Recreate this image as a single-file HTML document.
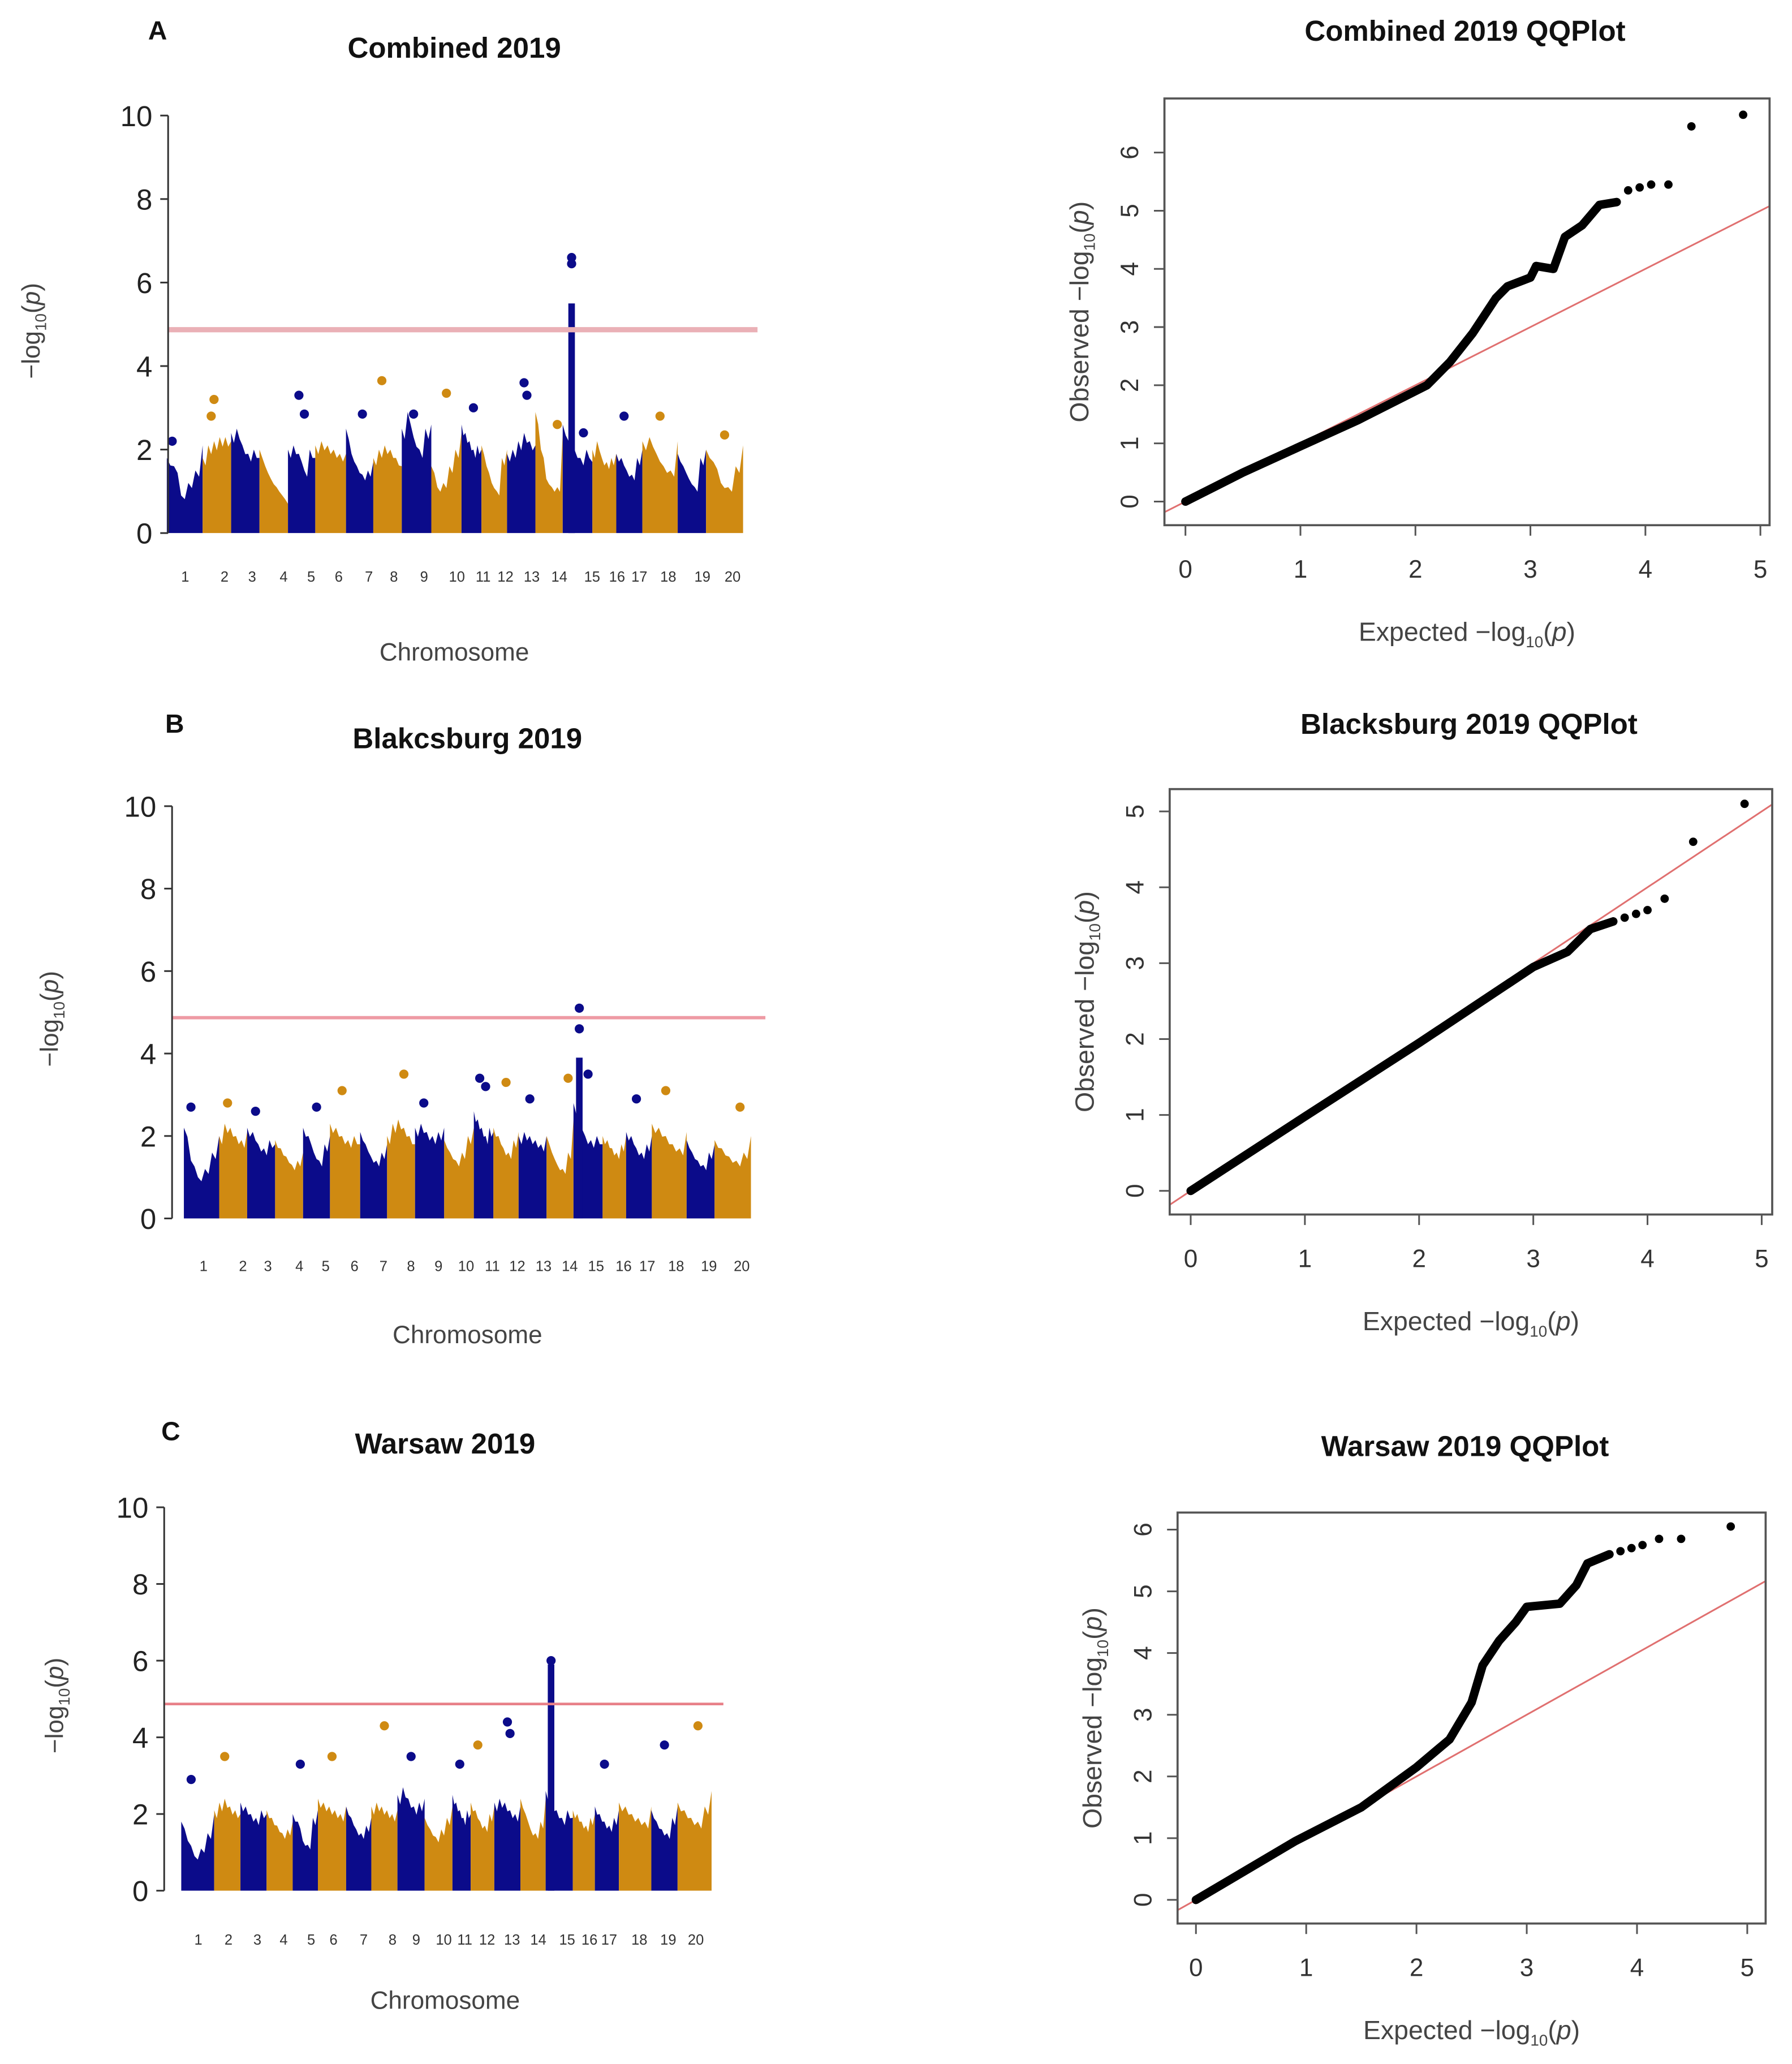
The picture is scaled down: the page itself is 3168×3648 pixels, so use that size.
<!DOCTYPE html>
<html><head><meta charset="utf-8"><style>
html,body{margin:0;padding:0;background:#fff}
svg{display:block}
text{font-family:"Liberation Sans",sans-serif}
</style></head><body>
<svg id="fig" width="3168" height="3648" viewBox="0 0 1365 1572" xmlns="http://www.w3.org/2000/svg"></svg>
<script>
const chromLabels=["1","2","3","4","5","6","7","8","9","10","11","12","13","14","15","16","17","18","19","20"];
const chromSizes=[63,50,50,50,48,54,48,50,52,53,35,45,50,48,52,42,46,62,50,65];
const profileA=[[1.8,1.6,0.9,1.2,1.5,2.1],[1.8,2.1,2.2,2.3,2.3,2.2],[2.4,2.5,2.1,1.9,2.0,1.8],[2.0,1.6,1.3,1.1,0.9,0.7],[2.0,2.1,1.9,1.5,2.0,1.8],[2.1,2.2,2.1,2.0,1.9,1.9],[2.5,1.9,1.6,1.4,1.5,1.7],[1.8,2.0,2.1,2.0,1.8,1.6],[2.5,2.9,2.3,2.0,2.5,2.6],[1.6,1.1,1.2,1.6,2.0,2.4],[2.6,2.4,2.2,2.0,2.1,2.0],[2.1,1.6,1.2,1.0,1.8,2.0],[1.9,2.0,2.2,2.4,2.2,2.1],[2.9,2.0,1.3,1.1,1.1,2.4],[2.6,2.2,2.0,1.8,2.0,1.7],[2.0,2.2,1.8,1.7,1.8,1.9],[1.9,1.8,1.5,1.4,1.8,2.0],[2.2,2.3,1.9,1.6,1.5,2.2],[1.9,1.6,1.3,1.1,1.8,2.0],[2.0,1.7,1.2,1.1,1.6,2.1]];
const profileB=[[2.2,1.4,1.0,1.2,1.6,2.0],[2.0,2.3,2.2,2.0,1.9,2.1],[2.2,2.1,1.8,1.7,1.9,1.8],[1.9,1.7,1.5,1.3,1.4,1.6],[2.2,2.0,1.6,1.4,1.8,2.0],[2.3,2.2,2.0,1.9,2.0,1.8],[2.1,1.8,1.5,1.4,1.6,1.8],[2.0,2.3,2.4,2.2,2.0,1.8],[2.2,2.3,2.1,2.0,2.1,2.2],[1.9,1.6,1.4,1.6,2.0,2.2],[2.6,2.4,2.2,2.0,2.2,2.1],[2.2,2.0,1.7,1.6,1.9,2.1],[2.0,2.1,2.0,1.9,1.8,2.0],[2.0,1.6,1.3,1.2,1.6,2.4],[2.8,2.4,2.0,1.9,2.0,1.8],[2.0,1.9,1.7,1.6,1.8,2.0],[2.1,2.0,1.7,1.6,1.8,2.0],[2.3,2.2,2.0,1.8,1.7,2.1],[1.9,1.6,1.4,1.3,1.6,1.8],[1.9,1.7,1.5,1.4,1.6,2.0]];
const profileC=[[1.8,1.3,0.9,1.1,1.5,2.0],[2.1,2.3,2.4,2.2,2.1,2.0],[2.3,2.2,2.0,1.9,2.1,2.0],[2.1,1.9,1.7,1.5,1.6,1.8],[2.0,1.8,1.3,1.2,1.9,2.1],[2.4,2.3,2.2,2.1,2.0,2.2],[2.2,1.9,1.6,1.5,1.7,1.9],[2.2,2.3,2.2,2.1,2.0,2.1],[2.5,2.7,2.4,2.2,2.3,2.4],[1.9,1.6,1.4,1.6,1.9,2.2],[2.5,2.3,2.1,1.9,2.1,2.0],[2.3,2.1,1.8,1.7,2.0,2.2],[2.3,2.4,2.3,2.1,2.0,2.2],[2.4,2.0,1.6,1.5,1.8,2.4],[2.6,2.3,2.1,1.9,2.1,1.9],[2.1,2.0,1.8,1.7,1.9,2.0],[2.2,2.0,1.8,1.7,1.9,2.1],[2.3,2.2,2.0,1.9,1.8,2.2],[2.1,1.8,1.6,1.5,1.9,2.2],[2.3,2.1,1.9,1.8,2.2,2.6]];
const outliersA=[[1,0.15,2.2],[2,0.3,2.8],[2,0.4,3.2],[5,0.4,3.3],[5,0.6,2.85],[7,0.6,2.85],[8,0.3,3.65],[9,0.4,2.85],[10,0.5,3.35],[11,0.6,3.0],[13,0.6,3.6],[13,0.7,3.3],[14,0.8,2.6],[15,0.3,6.6],[15,0.3,6.45],[15,0.7,2.4],[17,0.3,2.8],[18,0.5,2.8],[20,0.5,2.35]];
const outliersB=[[1,0.2,2.7],[2,0.3,2.8],[3,0.3,2.6],[5,0.5,2.7],[6,0.4,3.1],[8,0.6,3.5],[9,0.3,2.8],[11,0.3,3.4],[11,0.6,3.2],[12,0.5,3.3],[13,0.4,2.9],[14,0.8,3.4],[15,0.2,5.1],[15,0.2,4.6],[15,0.5,3.5],[17,0.4,2.9],[18,0.4,3.1],[20,0.7,2.7]];
const outliersC=[[1,0.3,2.9],[2,0.4,3.5],[5,0.3,3.3],[6,0.5,3.5],[8,0.5,4.3],[9,0.5,3.5],[11,0.4,3.3],[12,0.3,3.8],[13,0.5,4.4],[13,0.6,4.1],[15,0.2,6.0],[17,0.4,3.3],[19,0.5,3.8],[20,0.6,4.3]];
const spikesA=[[15,0.3,5.5]];
const spikesB=[[15,0.2,3.9]];
const spikesC=[[15,0.2,5.9]];
const threshold=4.87;
const yTicksM=[0,2,4,6,8,10];
const qqCurveA=[[0,0],[0.5,0.5],[1,0.95],[1.5,1.4],[1.9,1.8],[2.1,2.0],[2.3,2.4],[2.5,2.9],[2.7,3.5],[2.8,3.7],[3.0,3.85],[3.05,4.05],[3.2,4.0],[3.3,4.55],[3.45,4.75],[3.6,5.1],[3.75,5.15]];
const qqTailA=[[3.85,5.35],[3.95,5.4],[4.05,5.45],[4.2,5.45],[4.4,6.45],[4.85,6.65]];
const qqCurveB=[[0,0],[1,0.98],[2,1.95],[2.5,2.45],[3,2.95],[3.3,3.15],[3.5,3.45],[3.7,3.55]];
const qqTailB=[[3.8,3.6],[3.9,3.65],[4.0,3.7],[4.15,3.85],[4.4,4.6],[4.85,5.1]];
const qqCurveC=[[0,0],[0.9,0.95],[1.5,1.5],[2.0,2.15],[2.3,2.6],[2.5,3.2],[2.6,3.8],[2.75,4.2],[2.9,4.5],[3.0,4.75],[3.3,4.8],[3.45,5.1],[3.55,5.45],[3.75,5.6]];
const qqTailC=[[3.85,5.65],[3.95,5.7],[4.05,5.75],[4.2,5.85],[4.4,5.85],[4.85,6.05]];
const qqXTicks=[0,1,2,3,4,5];

const NS="http://www.w3.org/2000/svg";
const svg=document.getElementById('fig');
function el(tag,attrs,parent,txt){const e=document.createElementNS(NS,tag);for(const k in attrs)e.setAttribute(k,attrs[k]);if(txt!==undefined)e.textContent=txt;(parent||svg).appendChild(e);return e;}

function manhattan(cfg){
  const g=el('g',{});
  
  
  const ys=v=>cfg.y0-(cfg.y0-cfg.y10)*v/10;
  const total=chromSizes.reduce((a,b)=>a+b,0);
  const starts=[];let acc=0;chromSizes.forEach(s=>{starts.push(acc);acc+=s;});
  const xs=(c,f)=>cfg.dx0+(cfg.dx1-cfg.dx0)*(starts[c]+f*chromSizes[c])/total;
  const cols=['#0b0b8a','#cf8a12'];
  cfg.profile.forEach((p,i)=>{
    let pts=[[xs(i,0),ys(0)]];
    const n=p.length;
    p.forEach((v,j)=>{pts.push([xs(i,j/(n-1)),ys(v)]);if(j<n-1)pts.push([xs(i,(j+0.5)/(n-1)),ys(v*0.9)]);});
    pts.push([xs(i,1),ys(0)]);
    const poly=el('polygon',{points:pts.map(q=>q[0].toFixed(1)+','+q[1].toFixed(1)).join(' '),fill:cols[i%2]},g);
    
    
  });
  cfg.spikes.forEach(s=>{
    const c=s[0]-1;
    const r=el('rect',{x:xs(c,s[1])-2.5,y:ys(s[2]),width:5,height:ys(0)-ys(s[2]),fill:cols[c%2]},g);
    
    
  });
  cfg.outliers.forEach(o=>{
    const c=o[0]-1;
    const d=el('circle',{cx:xs(c,o[1]),cy:ys(o[2]),r:3.5,fill:cols[c%2]},g);
    
    
  });
  const th=el('line',{x1:cfg.ax,x2:cfg.thEnd,y1:ys(threshold),y2:ys(threshold),stroke:cfg.thColor,'stroke-width':cfg.thWidth},g);
  
  
  const ax=el('line',{x1:cfg.ax,x2:cfg.ax,y1:ys(10),y2:ys(0),stroke:'#333','stroke-width':1.3},g);
  
  
  yTicksM.forEach(t=>{
    el('line',{x1:cfg.ax-6,x2:cfg.ax,y1:ys(t),y2:ys(t),stroke:'#333','stroke-width':1.3},g);
    const tl=el('text',{x:cfg.ax-12,y:ys(t)+8,'text-anchor':'end','font-size':22,fill:'#222'},g,String(t));
    
    
  });
  chromLabels.forEach((l,i)=>{
    const t=el('text',{x:cfg.labelX[i],y:cfg.labelY,'text-anchor':'middle','font-size':11,fill:'#333'},g,l);
    
    
  });
  const xl=el('text',{x:cfg.cx,y:cfg.xlY,'text-anchor':'middle','font-size':19,fill:'#444'},g,'Chromosome');
  
  
  const yl=el('text',{transform:`translate(${cfg.ylX},${(ys(0)+ys(10))/2+5}) rotate(-90)`,'text-anchor':'middle','font-size':19,fill:'#444'},g);
  yl.innerHTML='\u2212log<tspan font-size="12" dy="5">10</tspan><tspan dy="-5">(</tspan><tspan font-style="italic">p</tspan>)';
  
  
  const ti=el('text',{x:cfg.cx,y:cfg.titleY,'text-anchor':'middle','font-size':22,'font-weight':'bold',fill:'#111'},g,cfg.title);
  
  
  const lt=el('text',{x:cfg.letterX,y:cfg.letterY,'text-anchor':'middle','font-size':20,'font-weight':'bold',fill:'#111'},g,cfg.letter);
  
  
}

function qq(cfg){
  const g=el('g',{});
  
  
  const xs=v=>cfg.x0+(cfg.x5-cfg.x0)*v/5;
  const ys=v=>cfg.yb-cfg.yu*v;
  const cid='clip'+cfg.name;
  const cp=el('clipPath',{id:cid},g);
  el('rect',{x:cfg.bx0,y:cfg.by0,width:cfg.bx1-cfg.bx0,height:cfg.by1-cfg.by0},cp);
  const lo=-0.5,hi=8;
  const rl=el('line',{x1:xs(lo),y1:ys(lo),x2:xs(hi),y2:ys(hi),stroke:'#e07070','stroke-width':1.3,'clip-path':`url(#${cid})`},g);
  
  
  const cv=el('polyline',{points:cfg.curve.map(p=>xs(p[0]).toFixed(1)+','+ys(p[1]).toFixed(1)).join(' '),fill:'none',stroke:'#000','stroke-width':6.5,'stroke-linejoin':'round','stroke-linecap':'round'},g);
  
  
  cfg.tail.forEach(p=>{
    const c=el('circle',{cx:xs(p[0]),cy:ys(p[1]),r:3.2,fill:'#000'},g);
    
    
  });
  const bx=el('rect',{x:cfg.bx0,y:cfg.by0,width:cfg.bx1-cfg.bx0,height:cfg.by1-cfg.by0,fill:'none',stroke:'#555','stroke-width':1.6},g);
  
  
  qqXTicks.forEach(t=>{
    el('line',{x1:xs(t),x2:xs(t),y1:cfg.by1,y2:cfg.by1+8,stroke:'#555','stroke-width':1.3},g);
    const tl=el('text',{x:xs(t),y:cfg.by1+40,'text-anchor':'middle','font-size':19,fill:'#333'},g,String(t));
    
    
  });
  cfg.yTicks.forEach(t=>{
    el('line',{x1:cfg.bx0-8,x2:cfg.bx0,y1:ys(t),y2:ys(t),stroke:'#555','stroke-width':1.3},g);
    const tl=el('text',{transform:`translate(${cfg.bx0-20},${ys(t)}) rotate(-90)`,'text-anchor':'middle','font-size':19,fill:'#333'},g,String(t));
    
    
  });
  const xl=el('text',{x:(cfg.bx0+cfg.bx1)/2,y:cfg.by1+88,'text-anchor':'middle','font-size':20,fill:'#444'},g);
  xl.innerHTML='Expected  \u2212log<tspan font-size="12" dy="5">10</tspan><tspan dy="-5">(</tspan><tspan font-style="italic">p</tspan>)';
  
  
  const yl=el('text',{transform:`translate(${cfg.bx0-58},${(cfg.by0+cfg.by1)/2}) rotate(-90)`,'text-anchor':'middle','font-size':20,fill:'#444'},g);
  yl.innerHTML='Observed  \u2212log<tspan font-size="12" dy="5">10</tspan><tspan dy="-5">(</tspan><tspan font-style="italic">p</tspan>)';
  
  
  const ti=el('text',{x:cfg.tx,y:cfg.ty,'text-anchor':'middle','font-size':22,'font-weight':'bold',fill:'#111'},g,cfg.title);
  
  
}

manhattan({name:'manhattan-combined',title:'Combined 2019',letter:'A',letterX:120,letterY:30,titleY:44,cx:346,ax:128,y10:88,y0:406,dx0:127,dx1:566,thEnd:577,thColor:'#eab0b6',thWidth:4,labelX:[141,171,192,216,237,258,281,300,323,348,368,385,405,426,451,470,487,509,535,558],labelY:443,xlY:503,ylX:30,profile:profileA,outliers:outliersA,spikes:spikesA});
manhattan({name:'manhattan-blacksburg',title:'Blakcsburg 2019',letter:'B',letterX:133,letterY:558,titleY:570,cx:356,ax:131,y10:614,y0:928,dx0:140,dx1:572,thEnd:583,thColor:'#ee9aa4',thWidth:2.5,labelX:[155,185,204,228,248,270,292,313,334,355,375,394,414,434,454,475,493,515,540,565],labelY:968,xlY:1023,ylX:44,profile:profileB,outliers:outliersB,spikes:spikesB});
manhattan({name:'manhattan-warsaw',title:'Warsaw 2019',letter:'C',letterX:130,letterY:1097,titleY:1107,cx:339,ax:125,y10:1148,y0:1440,dx0:138,dx1:542,thEnd:551,thColor:'#e88088',thWidth:2,labelX:[151,174,196,216,237,254,277,299,317,338,354,371,390,410,432,449,464,487,509,530],labelY:1481,xlY:1530,ylX:48,profile:profileC,outliers:outliersC,spikes:spikesC});

qq({name:'qq-combined',title:'Combined 2019 QQPlot',tx:1116,ty:31,bx0:887,bx1:1348,by0:75,by1:400,x0:903,x5:1341,yb:382,yu:44.3,yTicks:[0,1,2,3,4,5,6],curve:qqCurveA,tail:qqTailA});
qq({name:'qq-blacksburg',title:'Blacksburg 2019 QQPlot',tx:1119,ty:559,bx0:891,bx1:1350,by0:601,by1:925,x0:907,x5:1342,yb:907,yu:57.8,yTicks:[0,1,2,3,4,5],curve:qqCurveB,tail:qqTailB});
qq({name:'qq-warsaw',title:'Warsaw 2019 QQPlot',tx:1116,ty:1109,bx0:897,bx1:1345,by0:1152,by1:1465,x0:911,x5:1331,yb:1447,yu:47,yTicks:[0,1,2,3,4,5,6],curve:qqCurveC,tail:qqTailC});
</script>
</body></html>
